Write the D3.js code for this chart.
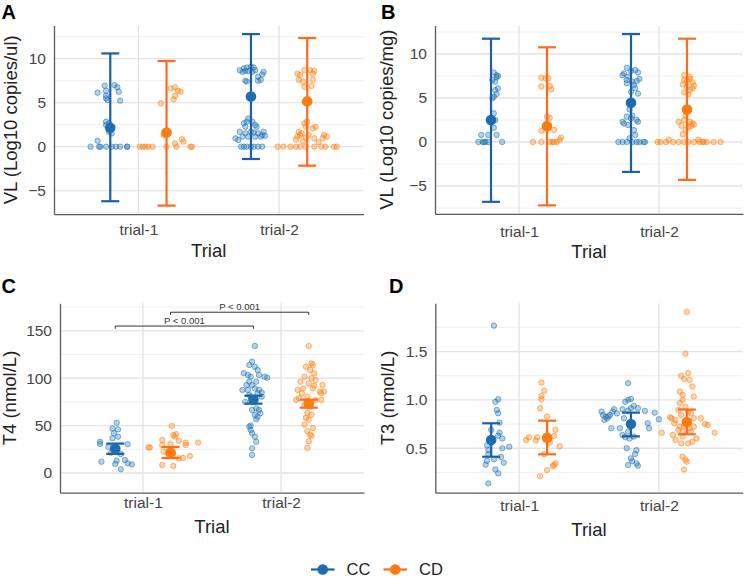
<!DOCTYPE html>
<html><head><meta charset="utf-8">
<script src="https://cdn.jsdelivr.net/npm/d3@7"></script>
<style>body{margin:0;background:#fff}svg{display:block}</style>
</head><body>
<svg id="c" width="744" height="578"></svg>
<script>
// ---------------- DATA ----------------
const trials = ["trial-1", "trial-2"];
const groups = ["CC", "CD"];
// points: [jitter (fraction of category step), value]
// Panel A – VL (Log10 copies/ul)
const aCC1 = [[-0.04,6.93],[-0.03,6.36],[-0.09,6.14],[-0.03,5.8],[-0.03,5.5],[0.03,7.0],[0.05,6.75],[0.06,6.25],[0.07,5.23],[-0.02,5.3],
  [-0.03,2.84],[-0.03,2.47],[-0.01,2.66],[-0.01,1.7],[0.01,1.5],[-0.09,0.68],
  [-0.14,0],[-0.08,0],[-0.07,0],[-0.03,0],[0.01,0],[0.04,0],[0.07,0],[0.12,0],[0.12,0]];
const aCD1 = [[0.03,6.63],[0.06,6.75],[0.08,6.36],[0.10,6.25],[0.06,5.76],[0.05,5.39],[-0.04,4.93],
  [-0.02,1.33],[0.06,0.38],[0.11,0.84],[0.12,0.57],
  [-0.19,0],[-0.17,0],[-0.15,0],[-0.13,0],[-0.10,0],[0,0],[0.07,0],[0.17,0],[0.18,0]];
const aCC2 = [[-0.08,8.7],[-0.05,8.9],[-0.03,9.0],[0,9.1],[0.02,9.0],[0.03,8.7],[0.01,8.5],[-0.02,8.6],[-0.04,8.6],[-0.06,8.5],
  [0.09,8.5],[0.08,8.2],[0.05,7.95],[0.07,7.6],[0.05,7.5],[-0.04,7.5],[-0.03,7.4],
  [-0.02,3.2],[-0.03,2.84],[-0.05,2.66],[0.01,2.84],[0.03,2.47],[0.04,2.27],[-0.08,1.7],[-0.04,1.52],[0,1.7],[0.02,1.6],
  [0.05,1.52],[0.08,1.33],[0.09,1.7],[-0.11,0.95],[-0.09,0.76],[-0.06,1.14],[-0.02,1.14],[0.03,1.14],[0.07,1.14],[0.10,1.24],[-0.04,2.27],
  [-0.07,0],[-0.05,0],[0,0],[0.02,0],[0.08,0],[-0.03,0],[0.05,0]];
const aCD2 = [[-0.02,8.7],[0.02,8.7],[0.04,8.3],[-0.07,8.3],[-0.05,8.15],[-0.06,7.6],[-0.03,7.4],[-0.02,6.8],[0.04,7.6],[0.05,8.6],[0.03,6.9],
  [-0.02,2.66],[0,2.84],[-0.01,2.27],[0.06,2.27],[0.04,2.09],[-0.06,1.7],[-0.04,1.52],[-0.07,1.14],[-0.05,1.33],[-0.01,1.02],
  [0.01,1.33],[0.12,1.33],[0.14,1.14],[0.11,0.95],[0.05,0.95],[-0.08,0.8],[-0.03,0.6],[0.08,0.5],
  [-0.21,0],[-0.17,0],[-0.08,0],[-0.05,0],[-0.01,0],[0.05,0],[0.10,0],[0.13,0],[0.19,0],[0.21,0],[-0.12,0]];
const aMean = [2.15, 1.6, 5.7, 5.15];     // CC t1, CD t1, CC t2, CD t2
const aLow  = [-6.2, -6.7, -1.4, -2.16];
const aHigh = [10.6, 9.74, 12.8, 12.35];

// Panel B – VL (Log10 copies/mg)
const bCC1 = [[0.02,7.9],[0.04,7.6],[0.05,7.5],[0.04,7.35],[0.01,7.05],[0.03,6.85],[0.05,6.1],[0.03,5.9],[0.01,4.97],[0.04,5.45],[0.02,5.15],
  [0.02,3.26],[0.03,2.5],[0.02,1.63],[-0.02,0.8],[-0.07,0.8],[0.04,0.8],
  [-0.09,0],[-0.06,0],[-0.04,0],[-0.02,0],[0.08,0],[-0.05,0]];
const bCD1 = [[-0.04,7.3],[-0.01,7.24],[0.01,7.24],[-0.04,6.3],[0.02,6.36],[0.03,5.98],[0,2.88],[0.02,2.76],[-0.04,1.25],[0.05,1.36],
  [0.10,0.5],[0.09,0.23],[-0.10,0],[-0.04,0],[0.02,0],[0.05,0],[0.07,0],[0.04,0]];
const bCC2 = [[-0.03,8.44],[0,8.07],[0.03,8.18],[0.05,7.9],[0.06,7.16],[0.04,6.93],[0.01,6.85],[0.02,6.48],[-0.02,7.42],[-0.03,7.05],[-0.03,6.67],
  [0.03,6.1],[0,5.7],[-0.05,7.8],[-0.06,7.6],[0.05,5.5],[-0.01,3.7],[0.01,3.0],
  [-0.03,2.88],[0,2.7],[0.04,2.5],[0.05,2.3],[-0.02,1.93],[0.02,1.36],[0.03,0.8],[-0.01,0.42],[-0.06,2.3],[-0.05,2.1],
  [-0.09,0],[-0.06,0],[-0.03,0],[0.01,0],[0.04,0],[0.06,0],[0.09,0],[0.10,0]];
const bCD2 = [[-0.02,7.6],[0.02,7.4],[-0.02,7.05],[0,6.93],[0.02,7.16],[0.04,6.78],[-0.03,6.55],[0,6.28],[0.05,6.4],[0.02,5.9],[-0.02,5.64],[0.01,5.42],[0.04,6.1],
  [-0.01,3.0],[-0.02,2.5],[0.02,2.3],[0.04,2.1],[-0.04,1.85],[0.01,1.7],[0.05,2.0],[-0.01,1.36],[-0.03,0.87],[-0.06,2.3],[0.03,1.8],
  [-0.21,0],[-0.19,0],[-0.15,0],[-0.13,0.25],[-0.10,0],[-0.06,0],[-0.02,0],[0.01,0],[0.05,0],[0.08,0.25],[0.12,0],[0.14,0],[0.19,0],[0.24,0],[0.09,0],[0.11,0]];
const bMean = [2.5, 1.8, 4.45, 3.7];
const bLow  = [-6.8, -7.2, -3.4, -4.3];
const bHigh = [11.74, 10.76, 12.27, 11.74];

// Panel C – T4 (nmol/L)
const cCC1 = [[0.01,53],[0.02,46],[-0.01,42],[0.02,38.3],[-0.02,36.6],[-0.11,33],[-0.11,30.6],[0.09,30.3],[-0.05,27.7],[0,24],[-0.03,21.4],
  [-0.10,11.9],[0,9.5],[0.01,13],[0.07,13.7],[0.09,10.2],[0.12,9.1],[0.04,3.9],[-0.02,47],[0.04,20]];
const cCD1 = [[0.01,49.6],[0.02,40],[0.04,41],[0.03,38.5],[-0.06,34.8],[-0.06,29.5],[0.06,34],[0.11,32],[0.11,29.5],[0.20,32],[-0.16,27],[-0.15,27],
  [-0.05,22.5],[0.02,19],[0.06,15.5],[0.09,15.8],[0.14,17.9],[-0.06,8.4],[0.02,7.4],[0,30.5]];
const cCC2 = [[0.01,134],[-0.01,117.4],[-0.03,113.9],[0.01,112.1],[-0.07,105.2],[-0.04,103.4],[-0.02,101.6],[0.03,108.6],[0.04,103.4],[0.08,101.6],
  [0.02,96.3],[-0.03,96.3],[-0.05,92.8],[-0.01,92.8],[-0.08,87.6],[-0.04,87.6],[0.01,89.3],[0.04,87.6],[0.03,84.1],[-0.02,80.5],[-0.03,82.3],[0.06,80.5],
  [0.02,68.2],[-0.01,66.5],[0.04,66.5],[0.01,61.2],[0.03,59.4],[0.02,56.6],[-0.03,48.9],[-0.02,45.4],[-0.01,41.9],[0.01,38.3],[0.02,33],[-0.01,26],[-0.01,19],
  [0.10,100.5],[0.06,85],[-0.06,75],[0.05,63],[-0.02,50]];
const cCD2 = [[0,134],[0.02,115.6],[0.03,113.9],[-0.02,112.1],[0.01,108.6],[0.04,105.2],[-0.03,101.6],[0.02,99.9],[-0.06,96.3],[0,94.6],[0.05,98],[0.10,92.8],
  [-0.08,87.6],[-0.04,89.3],[0.03,89.3],[0.08,85.8],[0.09,84.1],[-0.07,79],[-0.01,80.5],[0.05,77],[0.09,77],[-0.03,71.5],[0.01,70],[-0.01,63.3],[0.02,61.5],
  [0,56.3],[-0.03,51],[0.03,47.5],[-0.01,44.1],[0.01,40.5],[0,33.5],[-0.01,26.5],[0.04,92],[-0.09,77],[0.11,86],[-0.05,84],[-0.02,58],[0.02,39]];
const cMean = [25.6, 21.6, 77.3, 73.3];
const cLow  = [20.2, 15.8, 73.1, 68.9];
const cHigh = [31.0, 27.4, 81.5, 77.3];
const cBrackets = [{group: "CC", y: 155, label: "P < 0.001"}, {group: "CD", y: 169.6, label: "P < 0.001"}];

// Panel D – T3 (nmol/L)
const dCC1 = [[0.02,1.768],[0.05,1.007],[0.03,0.98],[0.04,0.896],[0.05,0.862],[0.06,0.765],[0,0.69],[0.06,0.66],[0.08,0.6],[0.13,0.516],[0.08,0.5],
  [-0.02,0.48],[-0.02,0.44],[0.07,0.41],[-0.03,0.37],[0.02,0.385],[0.09,0.35],[-0.04,0.33],[0.03,0.28],[0.05,0.24],[-0.02,0.136],[0.05,0.63],[-0.03,0.53]];
const dCD1 = [[-0.04,1.18],[-0.02,1.096],[-0.04,1.04],[-0.04,1.007],[-0.05,0.914],[0,0.827],[0.06,0.69],[0.05,0.627],[-0.07,0.613],[-0.13,0.613],
  [-0.15,0.585],[-0.08,0.58],[0.02,0.557],[0.09,0.52],[-0.02,0.44],[0.06,0.343],[0.05,0.326],[0.04,0.315],[0,0.274],[-0.05,0.21]];
const dCC2 = [[-0.02,1.173],[-0.02,1.0],[0,1.01],[-0.04,0.98],[0.02,0.938],[0.05,0.914],[-0.06,0.903],[-0.02,0.889],[0,0.914],[0.10,0.886],[0.17,0.868],
  [-0.12,0.903],[-0.13,0.879],[-0.15,0.844],[-0.18,0.827],[-0.20,0.844],[-0.21,0.879],[-0.17,0.81],[-0.19,0.793],[-0.14,0.706],[-0.08,0.706],
  [0.12,0.758],[0.13,0.706],[0.20,0.80],[-0.05,0.81],[-0.02,0.671],[-0.06,0.637],[-0.04,0.613],[0.02,0.62],
  [-0.03,0.5],[0.04,0.48],[0.03,0.44],[0,0.395],[0.04,0.343],[-0.02,0.326],[0.05,0.32],[0.01,0.367],[-0.01,0.6],[-0.10,0.86],[-0.16,0.83]];
const dCD2 = [[0,1.91],[-0.01,1.477],[-0.04,1.249],[0.01,1.277],[-0.02,1.215],[0.02,1.207],[0.04,1.138],[-0.05,1.086],[-0.03,1.052],[0.05,1.035],
  [-0.03,1.0],[-0.05,0.966],[-0.01,0.93],[-0.06,0.896],[0.01,0.879],[-0.04,0.844],[0.03,0.862],[-0.11,0.81],[-0.08,0.793],[-0.12,0.82],[-0.09,0.758],
  [0,0.793],[0.05,0.81],[0.10,0.81],[-0.05,0.723],[-0.02,0.73],[0.02,0.706],[0.05,0.723],[0.13,0.751],[0.15,0.74],[-0.06,0.689],[-0.03,0.671],[0.03,0.671],
  [-0.10,0.637],[-0.03,0.62],[0.07,0.6],[0.20,0.66],[-0.18,0.66],[-0.08,0.585],[-0.04,0.55],[0.01,0.55],[0.04,0.567],[-0.03,0.412],[0,0.36],[-0.02,0.28],[-0.01,0.38]];
const dMean = [0.585, 0.609, 0.751, 0.772];
const dLow  = [0.412, 0.437, 0.623, 0.644];
const dHigh = [0.758, 0.785, 0.868, 0.90];

const ticksVL = [-5, 0, 5, 10];
const minorVL = [-7.5, -2.5, 2.5, 7.5, 12.5];
const ticksT4 = [0, 50, 100, 150];
const minorT4 = [25, 75, 125, 175];
const ticksT3 = [0.5, 1.0, 1.5];
const minorT3 = [0.25, 0.75, 1.25, 1.75];

// ---------------- STYLE ----------------
const FONT = "'Liberation Sans', Arial, Helvetica, sans-serif";
const ptColor = {CC: "#1f77b4", CD: "#ff7f0e"};
const barColor = {CC: "#1c5fa8", CD: "#ff6a1c"};
const meanColor = {CC: "#1f6db1", CD: "#ff7a10"};
const dodge = {CC: -0.2, CD: 0.2};

const svg = d3.select("#c");

function panel(cfg) {
  const g = svg.append("g");
  const x = d3.scalePoint().domain(trials).range([cfg.left, cfg.right]).padding(0.6);
  const y = d3.scaleLinear().domain(cfg.yDomain).range([cfg.bottom, cfg.top]);
  const step = x.step();
  const px = (grp, tr, j) => x(tr) + (dodge[grp] + j) * step;

  // grid
  g.selectAll(".minor").data(cfg.minor.filter(v => v > cfg.yDomain[0] && v < cfg.yDomain[1])).join("line")
    .attr("x1", cfg.left).attr("x2", cfg.right).attr("y1", d => y(d)).attr("y2", d => y(d))
    .attr("stroke", "#ececec").attr("stroke-width", 0.9);
  g.selectAll(".major").data(cfg.ticks).join("line")
    .attr("x1", cfg.left).attr("x2", cfg.right).attr("y1", d => y(d)).attr("y2", d => y(d))
    .attr("stroke", "#e3e3e3").attr("stroke-width", 1.3);
  g.selectAll(".vmajor").data(trials).join("line")
    .attr("x1", d => x(d)).attr("x2", d => x(d)).attr("y1", cfg.top).attr("y2", cfg.bottom)
    .attr("stroke", "#e3e3e3").attr("stroke-width", 1.3);

  // jittered points
  const pts = [];
  cfg.points.forEach(p => p.data.forEach(([j, v]) => pts.push({grp: p.grp, tr: p.tr, j, v})));
  g.append("g").selectAll("circle").data(pts).join("circle")
    .attr("cx", d => px(d.grp, d.tr, d.j)).attr("cy", d => y(d.v)).attr("r", 2.7)
    .attr("fill", d => ptColor[d.grp]).attr("fill-opacity", 0.33)
    .attr("stroke", d => ptColor[d.grp]).attr("stroke-opacity", 0.55).attr("stroke-width", 1);

  // summaries
  const keys = [["CC","trial-1"],["CD","trial-1"],["CC","trial-2"],["CD","trial-2"]];
  const sums = keys.map(([grp, tr], i) => ({grp, tr, m: cfg.mean[i], lo: cfg.low[i], hi: cfg.high[i]}));
  const eb = g.append("g").selectAll("g").data(sums).join("g");
  eb.append("line").attr("x1", d => px(d.grp, d.tr, 0)).attr("x2", d => px(d.grp, d.tr, 0))
    .attr("y1", d => y(d.lo)).attr("y2", d => y(d.hi)).attr("stroke", d => barColor[d.grp]).attr("stroke-width", 2.2);
  ["lo", "hi"].forEach(k => eb.append("line")
    .attr("x1", d => px(d.grp, d.tr, 0) - 9).attr("x2", d => px(d.grp, d.tr, 0) + 9)
    .attr("y1", d => y(d[k])).attr("y2", d => y(d[k])).attr("stroke", d => barColor[d.grp]).attr("stroke-width", 2.2));
  eb.append("circle").attr("cx", d => px(d.grp, d.tr, 0)).attr("cy", d => y(d.m)).attr("r", 5.3)
    .attr("fill", d => meanColor[d.grp]);

  // brackets
  if (cfg.brackets) {
    cfg.brackets.forEach(b => {
      const x1 = px(b.group, "trial-1", 0), x2 = px(b.group, "trial-2", 0), yb = y(b.y);
      g.append("path").attr("d", `M${x1},${yb + 2.7}V${yb}H${x2}V${yb + 2.7}`)
        .attr("fill", "none").attr("stroke", "#333").attr("stroke-width", 1);
      g.append("text").attr("x", (x1 + x2) / 2).attr("y", yb - 2.5).attr("text-anchor", "middle")
        .attr("font-family", FONT).attr("font-size", 9.5).attr("fill", "#333").text(b.label);
    });
  }

  // axes
  const ya = g.append("g").attr("transform", `translate(${cfg.left},0)`)
    .call(d3.axisLeft(y).tickValues(cfg.ticks).tickSize(0).tickSizeOuter(0).tickPadding(8).tickFormat(cfg.fmt));
  const xa = g.append("g").attr("transform", `translate(0,${cfg.bottom})`)
    .call(d3.axisBottom(x).tickSize(0).tickSizeOuter(0).tickPadding(cfg.xPad));
  [ya, xa].forEach(a => {
    a.select(".domain").attr("stroke", "#5a5a5a").attr("stroke-width", 1.3);
    a.selectAll("text").attr("font-family", FONT).attr("font-size", 15.5).attr("fill", "#444");
  });

  // titles
  g.append("text").attr("x", (cfg.left + cfg.right) / 2).attr("y", cfg.xTitleY).attr("text-anchor", "middle")
    .attr("font-family", FONT).attr("font-size", 18.5).attr("fill", "#222").text("Trial");
  g.append("text").attr("transform", `translate(${cfg.yTitleX},${(cfg.top + cfg.bottom) / 2}) rotate(-90)`)
    .attr("text-anchor", "middle").attr("font-family", FONT).attr("font-size", 18.5).attr("fill", "#222").text(cfg.yTitle);
  g.append("text").attr("x", cfg.lx).attr("y", cfg.ly).attr("font-family", FONT).attr("font-weight", "bold")
    .attr("font-size", 20).attr("fill", "#000").text(cfg.letter);
}

const mk = (cc1, cd1, cc2, cd2) => [
  {grp: "CC", tr: "trial-1", data: cc1}, {grp: "CD", tr: "trial-1", data: cd1},
  {grp: "CC", tr: "trial-2", data: cc2}, {grp: "CD", tr: "trial-2", data: cd2}];

panel({letter: "A", lx: 1.5, ly: 19, left: 54, right: 363.5, top: 25.5, bottom: 214.2, yDomain: [-7.675, 13.775],
  ticks: ticksVL, minor: minorVL, fmt: d3.format("d"), yTitle: "VL (Log10 copies/ul)", yTitleX: 16.5, xPad: 10, xTitleY: 256.5,
  points: mk(aCC1, aCD1, aCC2, aCD2), mean: aMean, low: aLow, high: aHigh});
panel({letter: "B", lx: 381, ly: 19, left: 435, right: 743, top: 25.5, bottom: 213.9, yDomain: [-8.17, 13.24],
  ticks: ticksVL, minor: minorVL, fmt: d3.format("d"), yTitle: "VL (Log10 copies/mg)", yTitleX: 392.5, xPad: 12, xTitleY: 258,
  points: mk(bCC1, bCD1, bCC2, bCD2), mean: bMean, low: bLow, high: bHigh});
panel({letter: "C", lx: 1.5, ly: 293, left: 60, right: 364, top: 303.3, bottom: 492.7, yDomain: [-20.8, 179],
  ticks: ticksT4, minor: minorT4, fmt: d3.format("d"), yTitle: "T4 (nmol/L)", yTitleX: 16, xPad: 4.5, xTitleY: 533,
  points: mk(cCC1, cCD1, cCC2, cCD2), mean: cMean, low: cLow, high: cHigh, brackets: cBrackets});
panel({letter: "D", lx: 389, ly: 293, left: 435.3, right: 742.7, top: 303.3, bottom: 492.7, yDomain: [0.04, 1.999],
  ticks: ticksT3, minor: minorT3, fmt: d3.format(".1f"), yTitle: "T3 (nmol/L)", yTitleX: 393.5, xPad: 7, xTitleY: 536,
  points: mk(dCC1, dCD1, dCC2, dCD2), mean: dMean, low: dLow, high: dHigh});

// legend
const leg = svg.append("g");
const legItems = [{grp: "CC", x: 311}, {grp: "CD", x: 383.5}];
legItems.forEach(it => {
  leg.append("line").attr("x1", it.x).attr("x2", it.x + 23.5).attr("y1", 569.5).attr("y2", 569.5)
    .attr("stroke", barColor[it.grp]).attr("stroke-width", 2.2);
  leg.append("circle").attr("cx", it.x + 11.75).attr("cy", 569.5).attr("r", 5.3).attr("fill", meanColor[it.grp]);
  leg.append("text").attr("x", it.x + 35.5).attr("y", 575.3).attr("font-family", FONT).attr("font-size", 16.5)
    .attr("fill", "#222").text(it.grp);
});
</script>
</body></html>
